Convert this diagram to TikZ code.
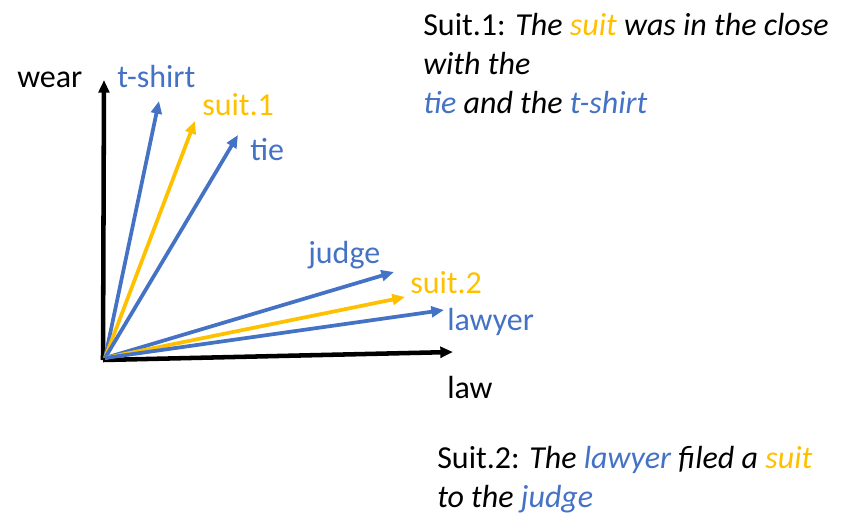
\documentclass[tikz,border=0pt]{standalone}
\usepackage{fontspec}
\setmainfont{Carlito}
\usetikzlibrary{arrows.meta}
\definecolor{wordblue}{HTML}{4472C4}
\definecolor{wordgold}{HTML}{FFC000}
\begin{document}
\begin{tikzpicture}[x=0.75pt, y=-0.75pt, >={Triangle[length=9.5pt,width=8pt]},
  vec/.style={->, line width=2.8pt},
  axis/.style={->, line width=3.4pt, black},
  lbl/.style={font=\fontsize{24}{29.25}\selectfont, inner sep=0pt, anchor=base west}]
\useasboundingbox (0,0) rectangle (846,514);
% Ejes
\coordinate (o) at (103,360);
\coordinate (wtip) at (104,80);
\coordinate (ltip) at (453,352);
\draw[axis] (o) -- (wtip);
\draw[axis] (o) -- (ltip);
\node[lbl] (wear) at (17,87) {wear};
\node[lbl] (law) at (447,398) {law};
% Vectores
\coordinate (v0) at (105,358);
\coordinate (tshirttip) at (159,101);
\coordinate (suitatip) at (195,121);
\coordinate (tietip) at (238,135);
\coordinate (judgetip) at (394,272);
\coordinate (suitbtip) at (405,297);
\coordinate (lawyertip) at (444,310);
\draw[vec, wordblue] (v0) -- (tshirttip);
\draw[vec, wordgold] (v0) -- (suitatip);
\draw[vec, wordblue] (v0) -- (tietip);
\draw[vec, wordblue] (v0) -- (judgetip);
\draw[vec, wordgold] (v0) -- (suitbtip);
\draw[vec, wordblue] (v0) -- (lawyertip);
% Etiquetas
\node[lbl, wordblue] (tshirt) at (117,87) {t-shirt};
\node[lbl, wordgold] (suita) at (202,115) {suit.1};
\node[lbl, wordblue] (tie) at (250,160) {tie};
\node[lbl, wordblue] (judge) at (308,263) {judge};
\node[lbl, wordgold] (suitb) at (410,293) {suit.2};
\node[lbl, wordblue] (lawyer) at (447,330) {lawyer};
% Frases
\node[lbl, align=left] (sentA) at (423,113) {Suit.1: \textit{The \textcolor{wordgold}{suit} was in the close}\\
  \textit{with the}\\
  \textit{\textcolor{wordblue}{tie} and the \textcolor{wordblue}{t-shirt}}};
\node[lbl, align=left] (sentB) at (437,507) {Suit.2: \textit{The \textcolor{wordblue}{lawyer} filed a \textcolor{wordgold}{suit}}\\
  \textit{to the \textcolor{wordblue}{judge}}};
\end{tikzpicture}
\end{document}
